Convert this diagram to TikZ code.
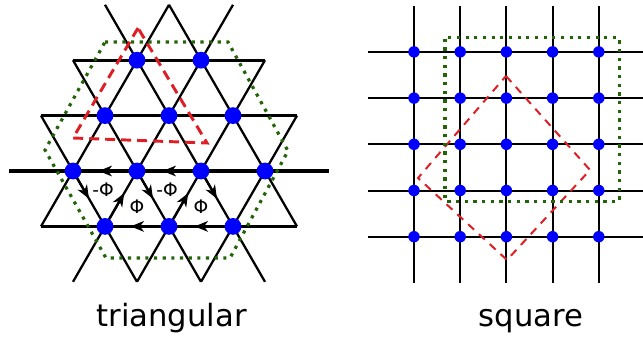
\documentclass[tikz,border=0pt]{standalone}
\usepackage{fontspec}
\setmainfont{DejaVu Sans}
\usepackage{tikz}
\usetikzlibrary{arrows.meta,calc}
\definecolor{siteblue}{RGB}{0,0,255}
\definecolor{cellgreen}{RGB}{36,100,8}
\definecolor{dashred}{RGB}{222,30,36}

\begin{document}
\begin{tikzpicture}[x=0.75pt,y=-0.75pt,>=Stealth]
\tikzset{hb/.style={line width=2.3pt},db/.style={line width=1.7pt},sb/.style={line width=1.5pt},
  site/.style={circle,fill=siteblue,inner sep=0pt,minimum size=12.6pt},ssite/.style={site,minimum size=8.6pt},
  flux/.style={-{Stealth[length=10pt,width=8pt,inset=3pt]},line width=1.7pt},
  phi/.style={font=\fontsize{14}{16}\selectfont,inner sep=0pt},
  wsc/.style={draw=cellgreen,line width=2.4pt,dash pattern=on 2.4pt off 4.1pt},
  bzt/.style={draw=dashred,line width=2.2pt,dash pattern=on 7.5pt off 4.5pt},
  bzs/.style={draw=dashred,line width=1.5pt,dash pattern=on 6pt off 5pt},
  lattlabel/.style={font=\fontsize{23}{27}\selectfont,anchor=base}}
\useasboundingbox (0,0) rectangle (643,339);
% triangular lattice
\begin{scope}[shift={(137,171)},x={(64,0)},y={(0,-55.4)}]
\coordinate (T1) at (-0.5,3);\coordinate (T2) at (0.5,3);\coordinate (T3) at (1.5,3);
\coordinate (B1) at (-1,-2);\coordinate (B2) at (0,-2);\coordinate (B3) at (1,-2);\coordinate (B4) at (2,-2);
\coordinate (L2) at (-1,2);\coordinate (L1) at (-1.5,1);\coordinate (L0) at (-2,0);\coordinate (Lm) at (-1.5,-1);
\coordinate (R2) at (2,2);\coordinate (R1) at (2.5,1);\coordinate (R0) at (3,0);\coordinate (Rm) at (2.5,-1);
\draw[hb] (L2)--(R2);\draw[hb] (L1)--(R1);\draw[hb] (L0)--(R0);\draw[hb] (Lm)--(Rm);
\draw[db] (L1)--(B2);\draw[db] (L2)--(B3);\draw[db] (T1)--(B4);\draw[db] (T2)--(Rm);
\draw[db] (T2)--(Lm);\draw[db] (T3)--(B1);\draw[db] (R2)--(B2);\draw[db] (R1)--(B3);
\node[site] (a1) at (0,2) {};\node[site] (a2) at (1,2) {};
\node[site] (b1) at (-0.5,1) {};\node[site] (b2) at (0.5,1) {};\node[site] (b3) at (1.5,1) {};
\node[site] (c1) at (-1,0) {};\node[site] (c2) at (0,0) {};\node[site] (c3) at (1,0) {};\node[site] (c4) at (2,0) {};
\node[site] (d1) at (-0.5,-1) {};\node[site] (d2) at (0.5,-1) {};\node[site] (d3) at (1.5,-1) {};
\draw[flux] (c2)--($(c2)!0.6!(c1)$);\draw[flux] (c3)--($(c3)!0.6!(c2)$);
\draw[flux] (d2)--($(d2)!0.6!(d1)$);\draw[flux] (d3)--($(d3)!0.6!(d2)$);
\draw[flux] (c1)--($(c1)!0.5!(d1)$);\draw[flux] (c2)--($(c2)!0.5!(d2)$);\draw[flux] (c3)--($(c3)!0.5!(d3)$);
\draw[flux] (d1)--($(d1)!0.6!(c2)$);\draw[flux] (d2)--($(d2)!0.6!(c3)$);
\node[phi] (m1) at (-0.53,-0.33) {-Φ};\node[phi] (p1) at (0,-0.64) {Φ};
\node[phi] (m2) at (0.47,-0.33) {-Φ};\node[phi] (p2) at (1,-0.64) {Φ};
\end{scope}
\draw[bzt] (138,28)--(73,138)--(207,143)--cycle;
\draw[wsc] (105,42)--(228,42)--(288,151)--(230,258)--(106,258)--(45,150)--cycle;
% square lattice
\begin{scope}[shift={(414,236.7)},x={(46.2,0)},y={(0,-46.2)}]
\foreach \i in {0,...,4}{
  \coordinate (vb\i) at (\i,-1);\coordinate (vt\i) at (\i,5);
  \coordinate (hl\i) at (-1,\i);\coordinate (hr\i) at (5,\i);
  \draw[sb] (vb\i)--(vt\i);\draw[sb] (hl\i)--(hr\i);}
\foreach \i in {0,...,4}
  \foreach \j in {0,...,4} \node[ssite] (q\i\j) at (\i,\j) {};
\end{scope}
\draw[bzs] (506,76)--(590,170)--(507,260)--(418,178)--cycle;
\draw[wsc,rounded corners=1pt] (445,37.3) rectangle (619.3,201.7);
\node[lattlabel] (tlab) at (171.7,326.7) {triangular};
\node[lattlabel] (slab) at (531,326.5) {square};
\end{tikzpicture}
\end{document}
